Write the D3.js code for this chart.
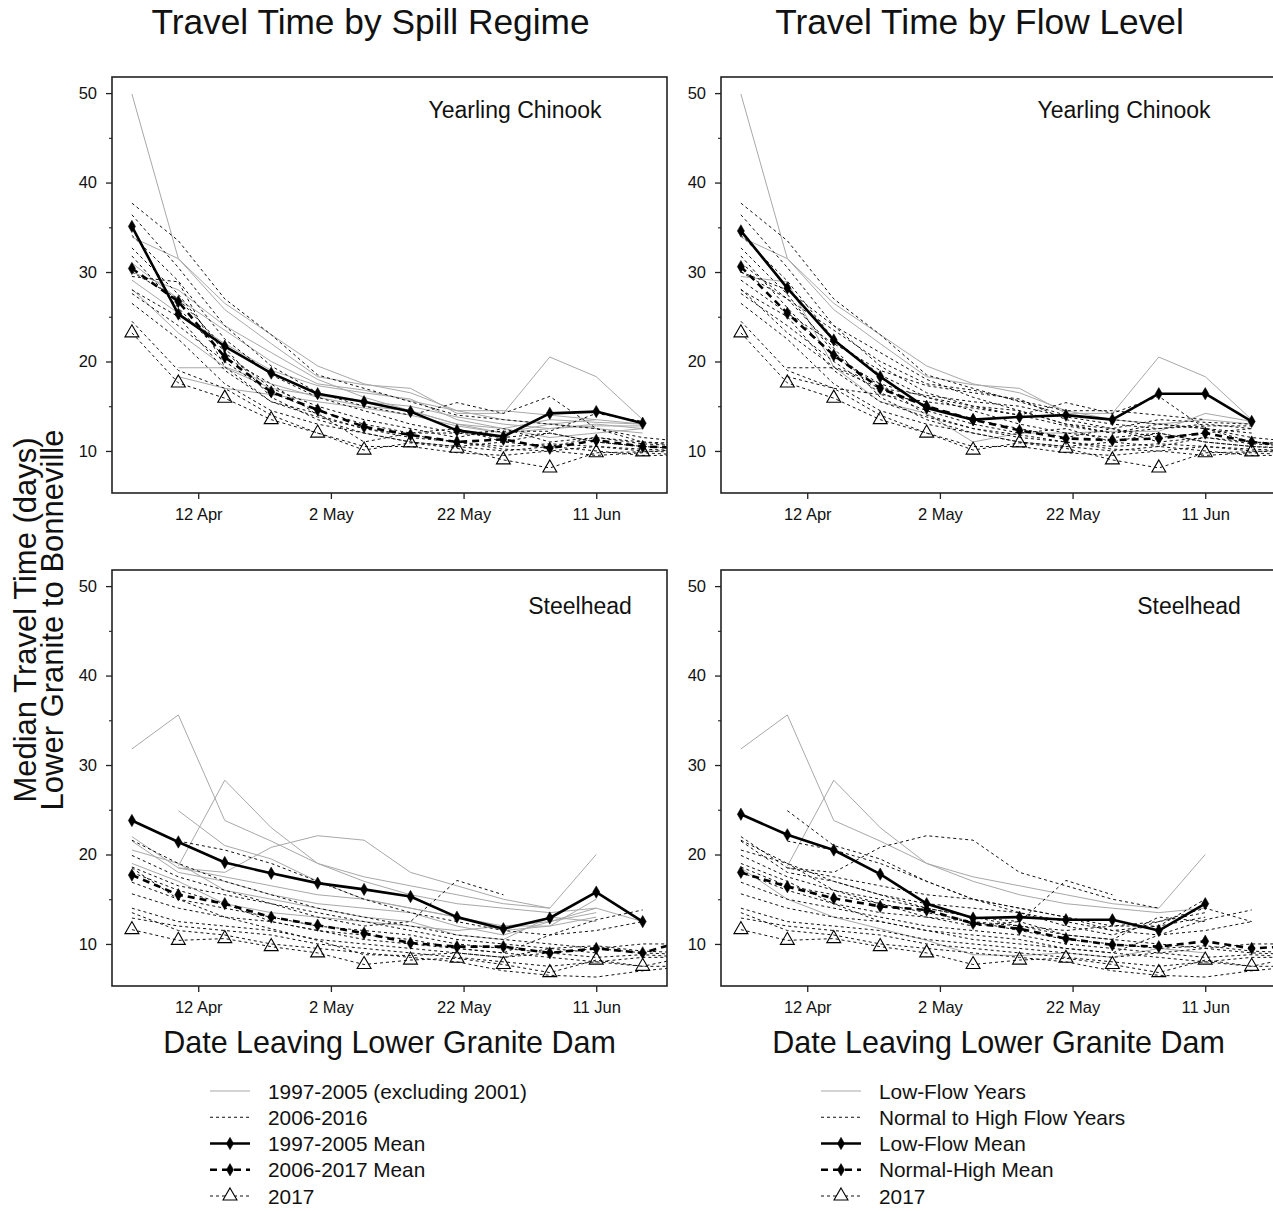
<!DOCTYPE html>
<html>
<head>
<meta charset="utf-8">
<script src="https://cdn.jsdelivr.net/npm/d3@7"></script>
<style>
  body { margin: 0; background: #fff; }
  text { font-family: "Liberation Sans", Arial, sans-serif; fill: #111; }
</style>
</head>
<body>
<svg id="chart" width="1273" height="1211"></svg>
<script>
// Median travel time, Lower Granite -> Bonneville, by week of passage.
// Left column: split by spill regime. Right column: split by flow level.

// ── Data ─────────────────────────────────────────────────────────────────────

const WEEKS = [
  "2017-04-02", "2017-04-09", "2017-04-16", "2017-04-23", "2017-04-30", "2017-05-07",
  "2017-05-14", "2017-05-21", "2017-05-28", "2017-06-04", "2017-06-11", "2017-06-18", "2017-06-25",
];
const X_TICKS = ["2017-04-12", "2017-05-02", "2017-05-22", "2017-06-11"];
const Y_MAJOR = [10, 20, 30, 40, 50];
const Y_MINOR = [15, 25, 35, 45];

const YEARS = [1997, 1998, 1999, 2000, 2002, 2003, 2004, 2005,
               2006, 2007, 2008, 2009, 2010, 2011, 2012, 2013, 2014, 2015, 2016];
const LOW_FLOW_YEARS = [2004, 2005, 2015];

// rows follow YEARS
const CHINOOK_TT = [
  [null, 19.3, 19.3, 17.0, 16.2, 15.5, 15.0, 13.8, 13.0, 12.5, 13.0, 12.5, null],
  [29.1, 25.4, 22.0, 19.0, 17.3, 16.5, 15.8, 13.5, 12.5, 13.5, 13.2, 13.0, null],
  [28.1, 23.2, 19.4, 17.5, 16.0, 15.0, 14.5, 13.0, 12.0, 12.5, 12.8, 12.8, null],
  [null, 18.3, 17.0, 16.3, 15.5, 14.8, 14.0, 12.8, 12.0, 13.0, 12.5, 12.0, null],
  [31.0, 27.0, 23.5, 20.0, 17.5, 16.8, 15.6, 14.5, 14.5, 14.0, 13.5, null, null],
  [30.0, 28.0, 24.0, 21.0, 18.0, 16.0, 14.5, 13.0, 12.5, 11.5, 12.0, 12.5, null],
  [33.9, 31.5, 26.5, 23.0, 19.5, 17.5, 16.5, 14.5, 13.5, 13.0, 13.5, 13.0, null],
  [49.9, 31.5, 25.8, 22.0, 18.3, 17.4, 17.0, 14.2, 14.2, 20.5, 18.3, 13.5, null],
  [37.7, 33.5, 27.0, 23.0, 18.5, 17.0, 15.5, 14.0, 13.5, 13.0, 12.5, 11.5, 11.0],
  [36.4, 30.5, 24.0, 19.5, 16.5, 15.0, 14.0, 15.4, 14.2, 16.1, 12.5, 11.0, 10.8],
  [34.1, 29.0, 22.5, 18.5, 16.0, 14.5, 13.0, 12.0, 11.5, 12.0, 11.0, 10.5, 10.3],
  [32.7, 27.5, 21.0, 17.0, 15.0, 13.5, 12.5, 11.5, 12.5, 11.0, 11.5, 10.8, 10.5],
  [31.8, 26.0, 20.5, 17.5, 14.0, 12.5, 11.5, 11.0, 10.5, 10.8, 10.5, 10.2, 10.0],
  [30.0, 27.0, 21.5, 16.0, 13.5, 12.0, 11.0, 10.5, 11.0, 10.5, 11.5, 11.0, 10.5],
  [28.0, 25.0, 19.0, 15.5, 13.8, 12.5, 11.8, 11.0, 10.2, 10.0, 10.5, 10.0, 9.8],
  [27.6, 24.0, 20.0, 16.5, 14.5, 13.0, 12.0, 12.5, 11.0, 12.0, 11.0, 10.5, 10.2],
  [26.5, 22.5, 17.5, 14.5, 13.0, 12.0, 11.0, 10.5, 10.0, 10.5, 10.0, 9.5, 9.5],
  [29.5, 28.9, 19.4, 15.5, 14.2, 11.0, 12.0, 12.0, 12.2, 12.2, 14.2, 13.3, null],
  [24.5, 19.0, 17.0, 14.0, 12.0, 10.5, 10.5, 9.8, 9.5, 10.0, 9.5, 9.8, 9.5],
];

const STEELHEAD_TT = [
  [null, 18.5, 18.0, 20.8, 22.1, 21.6, 18.0, 16.5, 15.0, 14.0, null, null, null],
  [22.0, 18.5, 17.5, 16.5, 15.5, 15.0, 14.0, 13.0, 12.0, 12.5, 14.0, 12.5, null],
  [21.5, 18.0, 17.0, 15.5, 14.5, 14.0, 13.5, 12.0, 11.0, 12.5, 13.5, null, null],
  [20.5, 19.0, 16.0, 15.0, 14.0, 13.0, 12.5, 11.0, 10.5, 13.0, 12.5, null, null],
  [null, 24.9, 21.0, 19.5, 17.0, 15.0, 14.0, 13.0, 11.5, 12.0, 15.0, null, null],
  [19.0, 17.0, 14.5, 13.5, 13.0, 12.5, 12.0, 11.5, 12.0, 12.0, 13.0, null, null],
  [null, 18.7, 28.3, 23.0, 19.0, 17.0, 15.5, 14.5, 14.0, 13.5, 14.0, null, null],
  [31.8, 35.6, 23.8, 21.5, 19.0, 17.5, 16.5, 15.5, 14.5, 14.0, 20.0, null, null],
  [21.6, 19.0, 17.0, 15.5, 14.0, 13.0, 12.0, 11.0, 10.5, 10.0, 9.5, 9.0, 8.8],
  [19.9, 17.5, 16.0, 14.5, 13.5, 12.5, 11.5, 10.5, 10.0, 9.5, 9.8, 9.2, 9.0],
  [18.6, 16.5, 15.5, 14.5, 13.0, 12.0, 12.5, 17.1, 15.5, null, null, null, null],
  [16.9, 15.0, 14.0, 13.0, 12.0, 11.5, 11.0, 10.0, 9.5, 9.0, 8.5, 8.8, 8.5],
  [15.6, 14.0, 13.0, 12.5, 11.5, 11.0, 10.5, 9.5, 9.0, 11.0, 12.7, 13.8, null],
  [null, 21.5, 20.5, 19.0, 17.0, 15.0, 13.5, 12.5, 11.5, 11.0, 11.5, 12.5, null],
  [18.0, 16.0, 14.5, 12.5, 11.5, 10.5, 10.0, 9.5, 9.0, 8.5, 8.0, 8.5, 8.5],
  [12.9, 12.0, 11.5, 11.0, 10.0, 9.5, 9.0, 8.5, 8.0, 7.5, 8.0, 7.5, 7.5],
  [14.0, 12.5, 12.0, 11.5, 10.5, 10.0, 9.5, 9.0, 8.5, 9.0, 9.5, 10.0, 10.0],
  [18.5, 15.0, 13.0, 11.7, 10.4, 8.8, 8.7, 9.0, 8.5, 9.5, 9.0, null, null],
  [13.5, 11.5, 11.0, 10.0, 9.5, 9.0, 8.5, 8.0, 7.0, 6.5, 6.3, 7.0, 7.5],
];

const CHINOOK_2017   = [23.2, 17.6, 15.9, 13.5, 12.0, 10.1, 10.9, 10.3, 9.0, 8.1, 9.8, 9.9, 10.2];
const STEELHEAD_2017 = [11.6, 10.4, 10.6, 9.7, 9.0, 7.7, 8.2, 8.4, 7.7, 6.8, 8.2, 7.5, 8.6];

const CHINOOK_MEAN_9705   = [35.1, 25.3, 21.7, 18.7, 16.4, 15.5, 14.4, 12.3, 11.6, 14.2, 14.4, 13.1, null];
const CHINOOK_MEAN_0617   = [30.4, 26.7, 20.5, 16.6, 14.6, 12.7, 11.8, 11.0, 11.3, 10.3, 11.2, 10.5, 10.3];
const CHINOOK_MEAN_LOW    = [34.6, 28.2, 22.4, 18.3, 14.8, 13.5, 13.8, 14.0, 13.5, 16.4, 16.4, 13.3, null];
const CHINOOK_MEAN_NORMAL = [30.6, 25.4, 20.7, 17.0, 15.0, 13.5, 12.3, 11.4, 11.2, 11.4, 12.0, 11.0, 10.5];

const STEELHEAD_MEAN_9705   = [23.8, 21.4, 19.1, 17.9, 16.8, 16.1, 15.3, 13.0, 11.7, 12.9, 15.8, 12.5, null];
const STEELHEAD_MEAN_0617   = [17.7, 15.5, 14.5, 13.0, 12.1, 11.2, 10.1, 9.7, 9.7, 9.0, 9.5, 9.0, 10.5];
const STEELHEAD_MEAN_LOW    = [24.5, 22.2, 20.5, 17.8, 14.5, 12.9, 13.0, 12.7, 12.7, 11.5, 14.5, null, null];
const STEELHEAD_MEAN_NORMAL = [18.0, 16.4, 15.1, 14.2, 13.8, 12.3, 11.7, 10.6, 9.9, 9.7, 10.3, 9.5, 9.8];

const TITLES = ["Travel Time by Spill Regime", "Travel Time by Flow Level"];
const SPECIES = ["Yearling Chinook", "Steelhead"];
const LEGEND_SPILL = ["1997-2005 (excluding 2001)", "2006-2016", "1997-2005 Mean", "2006-2017 Mean", "2017"];
const LEGEND_FLOW  = ["Low-Flow Years", "Normal to High Flow Years", "Low-Flow Mean", "Normal-High Mean", "2017"];

// ── Layout ───────────────────────────────────────────────────────────────────

const PANEL_W = 555, PANEL_H = 416;
const COL_X = [112, 721];
const ROW_Y = [77, 570];

const STYLES = {
  gray:   { stroke: "#a8a8a8", width: 1,   dash: null },
  dotted: { stroke: "#111",    width: 1,   dash: "3,3" },
  solid:  { stroke: "#000",    width: 2.6, dash: null,  marker: "diamond" },
  dashed: { stroke: "#000",    width: 2.6, dash: "7,5", marker: "diamond" },
  y2017:  { stroke: "#111",    width: 1,   dash: "3,3", marker: "triangle" },
};
const LEGEND_STYLES = [STYLES.gray, STYLES.dotted, STYLES.solid, STYLES.dashed, STYLES.y2017];

const parseDate = d3.utcParse("%Y-%m-%d");
const dates = WEEKS.map(parseDate);

const x = d3.scaleUtc()
  .domain([Date.UTC(2017, 2, 30), Date.UTC(2017, 5, 21, 16)])
  .range([0, PANEL_W]);
const y = d3.scaleLinear().domain([5.3, 51.8]).range([PANEL_H, 0]);

const line = d3.line()
  .defined(d => d[1] != null)
  .x(d => x(d[0]))
  .y(d => y(d[1]));

const svg = d3.select("#chart");

const diamond  = d3.symbol(d3.symbolDiamond, 44)();
const triangle = d3.symbol(d3.symbolTriangle, 84)();

function drawSeries(g, values, st) {
  const pts = values.map((v, i) => [dates[i], v]);
  g.append("path")
    .attr("d", line(pts))
    .attr("fill", "none")
    .attr("stroke", st.stroke)
    .attr("stroke-width", st.width)
    .attr("stroke-dasharray", st.dash)
    .attr("stroke-linejoin", "round");
  if (!st.marker) return;
  g.append("g").selectAll("path")
    .data(pts.filter(d => d[1] != null))
    .join("path")
      .attr("transform", d => `translate(${x(d[0])},${y(d[1])})`)
      .attr("d", st.marker === "diamond" ? diamond : triangle)
      .attr("fill", st.marker === "diamond" ? "#000" : "none")
      .attr("stroke", "#000")
      .attr("stroke-width", st.marker === "diamond" ? 0.5 : 1.1);
}

// ── Panels ───────────────────────────────────────────────────────────────────

const panels = [
  { col: 0, row: 0, series: CHINOOK_TT,   y2017: CHINOOK_2017,   isGray: yr => yr <= 2005,
    meanSolid: CHINOOK_MEAN_9705,   meanDashed: CHINOOK_MEAN_0617 },
  { col: 1, row: 0, series: CHINOOK_TT,   y2017: CHINOOK_2017,   isGray: yr => LOW_FLOW_YEARS.includes(yr),
    meanSolid: CHINOOK_MEAN_LOW,    meanDashed: CHINOOK_MEAN_NORMAL },
  { col: 0, row: 1, series: STEELHEAD_TT, y2017: STEELHEAD_2017, isGray: yr => yr <= 2005,
    meanSolid: STEELHEAD_MEAN_9705, meanDashed: STEELHEAD_MEAN_0617 },
  { col: 1, row: 1, series: STEELHEAD_TT, y2017: STEELHEAD_2017, isGray: yr => LOW_FLOW_YEARS.includes(yr),
    meanSolid: STEELHEAD_MEAN_LOW,  meanDashed: STEELHEAD_MEAN_NORMAL },
];

panels.forEach((p, i) => {
  const g = svg.append("g").attr("transform", `translate(${COL_X[p.col]},${ROW_Y[p.row]})`);

  g.append("clipPath").attr("id", `clip${i}`)
    .append("rect").attr("width", PANEL_W).attr("height", PANEL_H);
  const plot = g.append("g").attr("clip-path", `url(#clip${i})`);

  YEARS.forEach((yr, k) => { if (p.isGray(yr)) drawSeries(plot, p.series[k], STYLES.gray); });
  YEARS.forEach((yr, k) => { if (!p.isGray(yr)) drawSeries(plot, p.series[k], STYLES.dotted); });
  drawSeries(plot, p.y2017, STYLES.y2017);
  drawSeries(plot, p.meanDashed, STYLES.dashed);
  drawSeries(plot, p.meanSolid, STYLES.solid);

  // axes
  g.append("g")
    .attr("transform", `translate(0,${PANEL_H})`)
    .call(d3.axisBottom(x).tickValues(X_TICKS.map(parseDate))
      .tickFormat(d3.utcFormat("%-d %b")).tickSize(6).tickPadding(9))
    .call(ax => ax.select(".domain").remove())
    .call(ax => ax.selectAll("line").attr("stroke", "#222").attr("stroke-width", 1.3))
    .selectAll("text").style("font-size", "16.5px").style("fill", "#111");

  g.append("g")
    .call(d3.axisLeft(y).tickValues(Y_MAJOR).tickSize(6).tickPadding(9))
    .call(ax => ax.select(".domain").remove())
    .call(ax => ax.selectAll("line").attr("stroke", "#222").attr("stroke-width", 1.3))
    .selectAll("text").style("font-size", "16.5px").style("fill", "#111");

  g.append("g")
    .call(d3.axisLeft(y).tickValues(Y_MINOR).tickSize(3).tickFormat(""))
    .call(ax => ax.select(".domain").remove())
    .call(ax => ax.selectAll("line").attr("stroke", "#222").attr("stroke-width", 1.1));

  g.append("rect")
    .attr("width", PANEL_W).attr("height", PANEL_H)
    .attr("fill", "none").attr("stroke", "#222").attr("stroke-width", 1.6);

  g.append("text")
    .attr("x", p.row === 0 ? 403 : 468).attr("y", p.row === 0 ? 41 : 44)
    .attr("text-anchor", "middle").style("font-size", "23px")
    .text(SPECIES[p.row]);
});

// ── Titles & axis labels ─────────────────────────────────────────────────────

TITLES.forEach((t, c) => {
  svg.append("text")
    .attr("x", COL_X[c] + PANEL_W / 2 - 19).attr("y", 34)
    .attr("text-anchor", "middle").style("font-size", "35.3px")
    .text(t);
  svg.append("text")
    .attr("x", COL_X[c] + PANEL_W / 2).attr("y", 1053)
    .attr("text-anchor", "middle").style("font-size", "30.5px")
    .text("Date Leaving Lower Granite Dam");
});

[["Median Travel Time (days)", 36], ["Lower Granite to Bonneville", 63]].forEach(([t, bx]) => {
  svg.append("text")
    .attr("transform", `translate(${bx},620) rotate(-90)`)
    .attr("text-anchor", "middle").style("font-size", "31px")
    .text(t);
});

// ── Legends ──────────────────────────────────────────────────────────────────

function drawLegend(x0, labels) {
  const lg = svg.append("g").attr("transform", `translate(${x0},1091)`);
  labels.forEach((label, i) => {
    const st  = LEGEND_STYLES[i];
    const row = lg.append("g").attr("transform", `translate(0,${i * 26.25})`);
    row.append("line")
      .attr("x1", 0).attr("x2", 40)
      .attr("stroke", st.stroke).attr("stroke-width", st.width)
      .attr("stroke-dasharray", st.dash);
    if (st.marker) {
      row.append("path")
        .attr("transform", "translate(20,0)")
        .attr("d", st.marker === "diamond" ? diamond : triangle)
        .attr("fill", st.marker === "diamond" ? "#000" : "#fff")
        .attr("stroke", "#000").attr("stroke-width", st.marker === "diamond" ? 0.5 : 1.1);
    }
    row.append("text")
      .attr("x", 58).attr("y", 7.5)
      .style("font-size", "20.8px")
      .text(label);
  });
}

drawLegend(210, LEGEND_SPILL);
drawLegend(821, LEGEND_FLOW);
</script>
</body>
</html>
